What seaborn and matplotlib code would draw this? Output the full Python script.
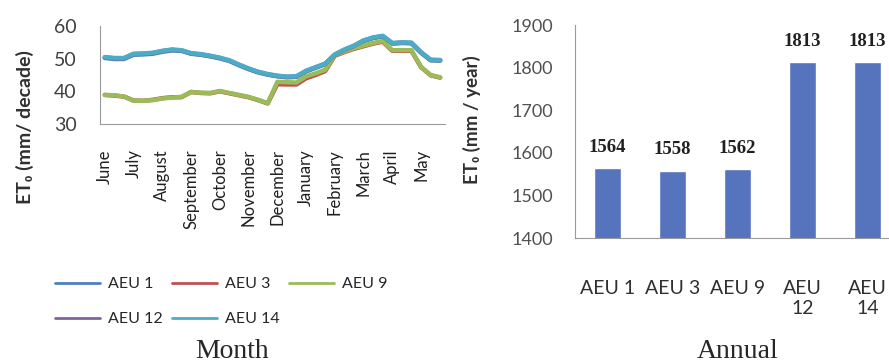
import matplotlib
matplotlib.use('Agg')
import matplotlib.pyplot as plt
import seaborn as sns
import pandas as pd
import numpy as np

# datos: ET0 por decada (3 decadas por mes, junio a mayo)
meses = ['June', 'July', 'August', 'September', 'October', 'November',
         'December', 'January', 'February', 'March', 'April', 'May']
nombres_aeu = ['AEU 1', 'AEU 3', 'AEU 9', 'AEU 12', 'AEU 14']

aeu1 = [50.2, 49.9, 49.9, 51.2, 51.3, 51.5, 52.1, 52.5, 52.4, 51.5, 51.2, 50.7,
        50.1, 49.3, 48.0, 46.8, 45.8, 45.1, 44.6, 44.3, 44.4, 46.1, 47.2, 48.3,
        51.1, 52.6, 53.8, 55.4, 56.3, 56.8, 54.6, 54.8, 54.7, 51.8, 49.5, 49.4]
aeu3 = [38.9, 38.7, 38.4, 37.2, 37.1, 37.4, 37.9, 38.2, 38.2, 39.8, 39.5, 39.4,
        40.0, 39.4, 38.8, 38.2, 37.3, 36.3, 42.2, 42.1, 42.1, 44.0, 45.0, 46.2,
        50.9, 52.0, 53.0, 53.8, 54.6, 55.2, 52.4, 52.4, 52.4, 47.4, 44.9, 44.2]
aeu9 = [38.9, 38.8, 38.4, 37.1, 37.1, 37.3, 37.8, 38.1, 38.3, 39.8, 39.6, 39.5,
        40.1, 39.5, 38.9, 38.3, 37.4, 36.4, 42.9, 42.8, 42.7, 44.6, 45.5, 46.6,
        51.1, 52.2, 53.2, 54.0, 54.8, 55.4, 52.6, 52.6, 52.6, 47.5, 45.0, 44.3]
aeu12 = [50.4, 50.1, 50.1, 51.4, 51.5, 51.7, 52.3, 52.7, 52.5, 51.6, 51.3, 50.8,
         50.2, 49.4, 48.1, 46.9, 45.9, 45.2, 44.7, 44.4, 44.5, 46.2, 47.3, 48.4,
         51.2, 52.7, 53.9, 55.5, 56.4, 56.9, 54.7, 54.9, 54.8, 51.9, 49.6, 49.5]
aeu14 = [50.5, 50.2, 50.2, 51.5, 51.6, 51.8, 52.4, 52.8, 52.6, 51.7, 51.4, 50.9,
         50.3, 49.5, 48.2, 47.0, 46.0, 45.3, 44.8, 44.5, 44.6, 46.3, 47.4, 48.5,
         51.3, 52.8, 54.0, 55.6, 56.5, 57.0, 54.8, 55.0, 54.9, 52.0, 49.7, 49.6]

# totales anuales (mm / year)
anual = [1564, 1558, 1562, 1813, 1813]
etiquetas_anual = ['AEU 1', 'AEU 3', 'AEU 9', 'AEU\n12', 'AEU\n14']

colores = ['#4F81BD', '#C0504D', '#9BBB59', '#8064A2', '#4BACC6']

sns.set_style('white')
plt.rcParams['font.family'] = ['Lato', 'DejaVu Sans']
gris = '#9A9A9A'
texto = '#404040'

series = [aeu1, aeu3, aeu9, aeu12, aeu14]
filas = []
for nombre, valores in zip(nombres_aeu, series):
    for i, v in enumerate(valores):
        filas.append({'decada': i, 'et0': v, 'aeu': nombre})
df = pd.DataFrame(filas)

fig = plt.figure(figsize=(8.89, 3.63), dpi=100)

# ---- grafico mensual ----
ax1 = fig.add_axes([100/889, 1-124/363, 345/889, 98/363])
sns.lineplot(data=df, x='decada', y='et0', hue='aeu', hue_order=nombres_aeu,
             palette=colores, linewidth=3.2, ax=ax1)
handles, labels = ax1.get_legend_handles_labels()
ax1.get_legend().remove()
ax1.set_xlim(-0.5, 35.5)
ax1.set_ylim(30, 60)
ax1.set_yticks([30, 40, 50, 60])
ax1.set_xticks(np.arange(0, 36, 3))
ax1.set_xticklabels(meses, rotation=90, fontsize=12, color='#202020')
ax1.set_xticks(np.arange(-0.5, 36, 1), minor=True)
ax1.tick_params(axis='x', which='major', length=0, pad=18)
ax1.tick_params(axis='x', which='minor', length=4, color=gris, direction='out')
ax1.tick_params(axis='y', length=5, color=gris, direction='out', labelsize=14,
                labelcolor=texto, pad=12)
for lado in ['top', 'right']:
    ax1.spines[lado].set_visible(False)
for lado in ['left', 'bottom']:
    ax1.spines[lado].set_color(gris)
ax1.set_xlabel('')
ax1.set_ylabel('ET₀ (mm/ decade)', fontsize=14, fontweight='bold', color='#303030')
ax1.yaxis.set_label_coords(-0.19, -0.03)

# leyenda en filas: AEU 1, 3, 9 arriba y AEU 12, 14 abajo
orden = [0, 3, 1, 4, 2]
for h in handles:
    h.set_linewidth(2)
fig.legend([handles[k] for k in orden], [labels[k] for k in orden], ncol=3,
           loc='upper left', bbox_to_anchor=(55/889, 1-277/363), frameon=False,
           fontsize=11.5, handlelength=2.8, handletextpad=0.5, columnspacing=0.6,
           labelspacing=1.3, borderpad=0, borderaxespad=0)

fig.text(232/889, 5/363, 'Month', family='Liberation Serif', fontsize=20,
         ha='center', va='baseline')

# ---- grafico anual ----
ax2 = fig.add_axes([575/889, 1-238.3/363, 325/889, 213.3/363])
sns.barplot(x=etiquetas_anual, y=anual, color='#5673BE', saturation=1,
            width=0.41, ax=ax2)
ax2.set_ylim(1400, 1900)
ax2.set_xlim(-0.5, 4.5)
ax2.set_yticks(np.arange(1400, 1901, 100))
ax2.set_xticks(np.arange(-0.5, 5, 1), minor=True)
ax2.tick_params(axis='x', which='major', length=0, pad=30, labelsize=14,
                labelcolor='#303030')
ax2.tick_params(axis='x', which='minor', length=8, color=gris, direction='out')
ax2.tick_params(axis='y', length=8, color=gris, direction='out', labelsize=13,
                labelcolor='#505050', pad=8)
for lado in ['top', 'right']:
    ax2.spines[lado].set_visible(False)
for lado in ['left', 'bottom']:
    ax2.spines[lado].set_color(gris)
ax2.set_ylabel('ET₀ (mm / year)', fontsize=13.5, fontweight='bold', color='#303030')
ax2.yaxis.set_label_coords(-0.29, 0.555)
for i, v in enumerate(anual):
    ax2.annotate(str(v), (i, v), xytext=(0, 9), textcoords='offset points',
                 ha='center', va='bottom', family='Liberation Serif',
                 fontweight='bold', fontsize=13.5, color='#202020')

fig.text(738/889, 5/363, 'Annual', family='Liberation Serif', fontsize=20,
         ha='center', va='baseline')

fig.savefig('out.png', dpi=100)
